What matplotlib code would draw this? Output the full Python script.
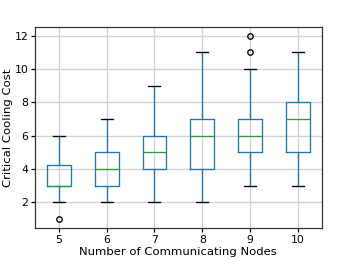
import matplotlib
matplotlib.use("Agg")
import matplotlib.pyplot as plt

# Box summaries
nodes = [5, 6, 7, 8, 9, 10]
whislo = [2, 2, 2, 2, 3, 3]
q1 = [3, 3, 4, 4, 5, 5]
med = [3, 4, 5, 6, 6, 7]
q3 = [4.25, 5, 6, 7, 7, 8]
whishi = [6, 7, 9, 11, 10, 11]
fliers = [[1], [], [], [], [11, 12], []]

stats = []
for i in range(len(nodes)):
    stats.append({'label': str(nodes[i]), 'whislo': whislo[i], 'q1': q1[i],
                  'med': med[i], 'q3': q3[i], 'whishi': whishi[i],
                  'fliers': fliers[i]})

plt.rcParams['font.size'] = 15
fig = plt.figure(figsize=(6.4, 4.8), dpi=55.84)
ax = fig.add_axes([0.098, 0.149, 0.802, 0.752])

lw = 1.7
ax.bxp(stats,
       boxprops=dict(color='#1f77b4', linewidth=lw),
       whiskerprops=dict(color='#1f77b4', linewidth=lw),
       medianprops=dict(color='#2ca02c', linewidth=lw),
       capprops=dict(color='k', linewidth=lw),
       flierprops=dict(marker='o', markersize=7, markeredgewidth=lw,
                       markeredgecolor='k', markerfacecolor='none'))
ax.grid(True, color='#d3d3d3', linewidth=lw)
ax.set_axisbelow(True)
for s in ax.spines.values():
    s.set_linewidth(1.6)
    s.set_color('#333333')
ax.tick_params(labelsize=14, width=1.6, length=5)
ax.set_yticks([2, 4, 6, 8, 10, 12])
ax.set_xlabel('Number of Communicating Nodes', fontsize=15, labelpad=3)
ax.set_ylabel('Critical Cooling Cost', fontsize=15, labelpad=2)

fig.savefig('out.png')
